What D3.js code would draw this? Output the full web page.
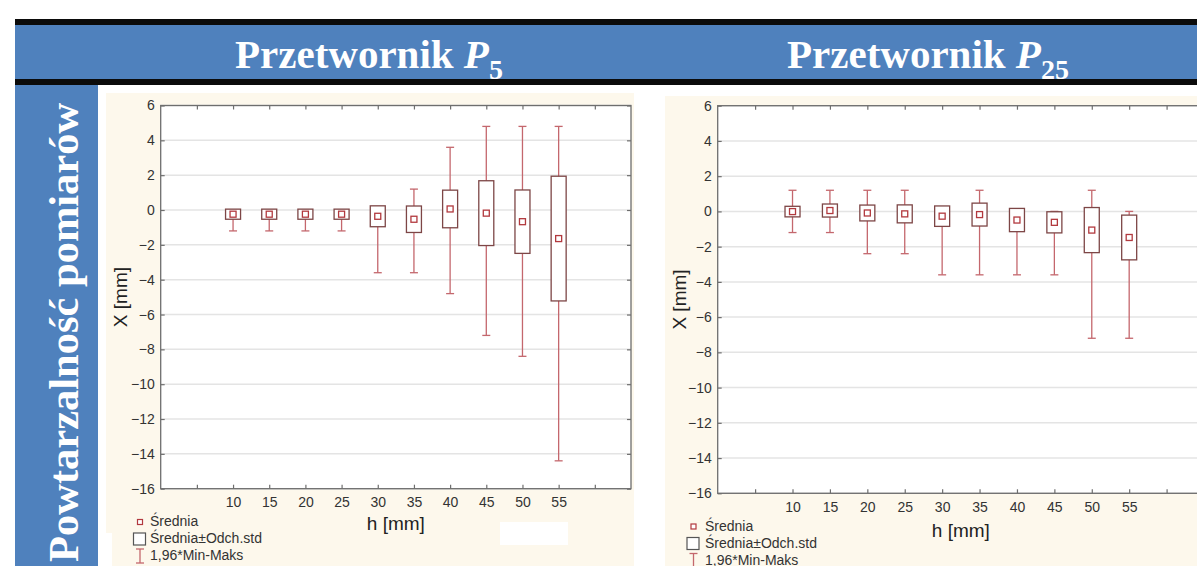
<!DOCTYPE html>
<html>
<head>
<meta charset="utf-8">
<script src="https://cdn.jsdelivr.net/npm/d3@7"></script>
<style>
  body { margin: 0; background: #fff; overflow: hidden; }
  svg { display: block; }
</style>
</head>
<body>
<svg id="chart" width="1197" height="566"></svg>
<script>
// ---- data -------------------------------------------------------------
const heights = [10, 15, 20, 25, 30, 35, 40, 45, 50, 55];        // h [mm]
const xTickValues = [5, 10, 15, 20, 25, 30, 35, 40, 45, 50, 55, 60];
const xTickLabels = [10, 15, 20, 25, 30, 35, 40, 45, 50, 55];
const yTickValues = [6, 4, 2, 0, -2, -4, -6, -8, -10, -12, -14, -16];

// Przetwornik P5
const p5Mean = [-0.24, -0.24, -0.24, -0.24, -0.36, -0.53, 0.06, -0.18, -0.67, -1.64];
const p5Sd   = [0.29, 0.29, 0.29, 0.29, 0.60, 0.76, 1.08, 1.86, 1.82, 3.58];
const p5Min  = [-1.2, -1.2, -1.2, -1.2, -3.6, -3.6, -4.8, -7.2, -8.4, -14.4];
const p5Max  = [0, 0, 0, 0, 0, 1.2, 3.6, 4.8, 4.8, 4.8];

// Przetwornik P25
const p25Mean = [-0.01, 0.05, -0.09, -0.14, -0.27, -0.18, -0.49, -0.62, -1.06, -1.48];
const p25Sd   = [0.30, 0.37, 0.45, 0.51, 0.58, 0.65, 0.66, 0.60, 1.28, 1.27];
const p25Min  = [-1.2, -1.2, -2.4, -2.4, -3.6, -3.6, -3.6, -3.6, -7.2, -7.2];
const p25Max  = [1.2, 1.2, 1.2, 1.2, 0, 1.2, 0, 0, 1.2, 0];

const legendLabels = ["Średnia", "Średnia±Odch.std", "1,96*Min-Maks"];
const yAxisTitle = "X [mm]";
const xAxisTitle = "h [mm]";
const rowTitle = "Powtarzalność pomiarów";
const columnTitles = [
  { word: "Przetwornik ", symbol: "P", sub: "5" },
  { word: "Przetwornik ", symbol: "P", sub: "25" }
];

// ---- styles -----------------------------------------------------------
const BLUE = "#4f81bd";
const CREAM = "#fdf8ec";
const WHISKER = "#c4676d";
const BOX = "#7d4646";
const MEAN = "#b2393e";
const AXIS = "#6e6e6e";
const GRID = "#e4e4e4";
const TEXT = "#333";
const SANS = "'Liberation Sans', Arial, sans-serif";
const SERIF = "'Liberation Serif', 'Times New Roman', serif";

const svg = d3.select("#chart");

// ---- header band and row label ----------------------------------------
svg.append("rect").attr("x", 15).attr("y", 19).attr("width", 1182).attr("height", 6).attr("fill", "#0b0b0b");
svg.append("rect").attr("x", 15).attr("y", 25).attr("width", 1182).attr("height", 54).attr("fill", BLUE);
svg.append("rect").attr("x", 15).attr("y", 79).attr("width", 1182).attr("height", 6).attr("fill", "#0b0b0b");
svg.append("rect").attr("x", 15).attr("y", 85).attr("width", 83).attr("height", 481).attr("fill", BLUE);

svg.append("text")
  .attr("transform", "translate(78,562) rotate(-90)")
  .attr("font-family", SERIF).attr("font-weight", "bold").attr("font-size", 42.5)
  .attr("fill", "#fff")
  .text(rowTitle);

const titlePos = [{ x: 235, y: 68 }, { x: 787, y: 68 }];
columnTitles.forEach((t, i) => {
  const txt = svg.append("text")
    .attr("x", titlePos[i].x).attr("y", titlePos[i].y)
    .attr("font-family", SERIF).attr("font-weight", "bold").attr("font-size", 41)
    .attr("fill", "#fff");
  txt.append("tspan").text(t.word);
  txt.append("tspan").attr("font-style", "italic").text(t.symbol);
  txt.append("tspan").attr("font-size", 28).attr("dy", 11).text(t.sub);
});

// ---- panels -----------------------------------------------------------
const panels = [
  {
    bg: { x: 106, y: 93, w: 528, h: 473 },
    plot: { l: 160.7, r: 631, t: 105.5, b: 488.7 },
    xPad: 8.4, xTitleY: 530, yTitleX: 127,
    legend: { x: 140, y: 522, tx: 150 },
    mean: p5Mean, sd: p5Sd, min: p5Min, max: p5Max
  },
  {
    bg: { x: 665, y: 96, w: 532, h: 470 },
    plot: { l: 717.7, r: 1204, t: 105.7, b: 493.3 },
    xPad: 9.2, xTitleY: 537, yTitleX: 686,
    legend: { x: 693.5, y: 526.5, tx: 705 },
    mean: p25Mean, sd: p25Sd, min: p25Min, max: p25Max
  }
];

function drawPanel(p, idx) {
  const g = svg.append("g");
  g.append("rect").attr("x", p.bg.x).attr("y", p.bg.y)
    .attr("width", p.bg.w).attr("height", p.bg.h).attr("fill", CREAM);

  const x = d3.scaleLinear().domain([0, 65]).range([p.plot.l, p.plot.r]);
  const y = d3.scaleLinear().domain([-16, 6]).range([p.plot.b, p.plot.t]);

  // plotting area
  g.append("rect").attr("x", p.plot.l).attr("y", p.plot.t)
    .attr("width", p.plot.r - p.plot.l).attr("height", p.plot.b - p.plot.t)
    .attr("fill", "#fff");

  g.append("g").selectAll("line").data(yTickValues).join("line")
    .attr("x1", p.plot.l).attr("x2", p.plot.r)
    .attr("y1", d => y(d)).attr("y2", d => y(d))
    .attr("stroke", GRID).attr("stroke-width", 1.5);

  // axes: ticks point inward, labels on left and bottom only
  const axisStyle = sel => {
    sel.select(".domain").remove();
    sel.selectAll(".tick line").attr("stroke", AXIS).attr("stroke-width", 1.2);
    sel.selectAll("text").attr("font-family", SANS).attr("font-size", 14).attr("fill", TEXT);
  };
  g.append("g").attr("transform", `translate(${p.plot.l},0)`)
    .call(d3.axisLeft(y).tickValues(yTickValues).tickSizeInner(-4).tickSizeOuter(0).tickPadding(6))
    .call(axisStyle);
  g.append("g").attr("transform", `translate(${p.plot.r},0)`)
    .call(d3.axisRight(y).tickValues(yTickValues).tickSizeInner(-4).tickSizeOuter(0).tickFormat(""))
    .call(axisStyle);
  g.append("g").attr("transform", `translate(0,${p.plot.b})`)
    .call(d3.axisBottom(x).tickValues(xTickValues).tickSizeInner(-4).tickSizeOuter(0)
      .tickPadding(p.xPad).tickFormat(d => xTickLabels.includes(d) ? d : ""))
    .call(axisStyle);
  g.append("g").attr("transform", `translate(0,${p.plot.t})`)
    .call(d3.axisTop(x).tickValues(xTickValues).tickSizeInner(-4).tickSizeOuter(0).tickFormat(""))
    .call(axisStyle);

  // frame
  g.append("rect").attr("x", p.plot.l).attr("y", p.plot.t)
    .attr("width", p.plot.r - p.plot.l).attr("height", p.plot.b - p.plot.t)
    .attr("fill", "none").attr("stroke", AXIS).attr("stroke-width", 1.3);

  // whiskers (min..max) with caps
  const rows = heights.map((h, i) => ({ h, mean: p.mean[i], sd: p.sd[i], min: p.min[i], max: p.max[i] }));
  const wg = g.append("g").attr("stroke", WHISKER).attr("stroke-width", 1.3);
  wg.selectAll("line.stem").data(rows).join("line").attr("class", "stem")
    .attr("x1", d => x(d.h)).attr("x2", d => x(d.h))
    .attr("y1", d => y(d.min)).attr("y2", d => y(d.max));
  wg.selectAll("line.capLo").data(rows).join("line").attr("class", "capLo")
    .attr("x1", d => x(d.h) - 4).attr("x2", d => x(d.h) + 4)
    .attr("y1", d => y(d.min)).attr("y2", d => y(d.min));
  wg.selectAll("line.capHi").data(rows).join("line").attr("class", "capHi")
    .attr("x1", d => x(d.h) - 4).attr("x2", d => x(d.h) + 4)
    .attr("y1", d => y(d.max)).attr("y2", d => y(d.max));

  // mean ± std boxes
  g.append("g").selectAll("rect").data(rows).join("rect")
    .attr("x", d => x(d.h) - 7.5).attr("width", 15)
    .attr("y", d => y(d.mean + d.sd))
    .attr("height", d => y(d.mean - d.sd) - y(d.mean + d.sd))
    .attr("fill", "#fff").attr("stroke", BOX).attr("stroke-width", 1.3);

  // means
  g.append("g").selectAll("rect").data(rows).join("rect")
    .attr("x", d => x(d.h) - 3).attr("y", d => y(d.mean) - 3)
    .attr("width", 6).attr("height", 6)
    .attr("fill", "#fff").attr("stroke", MEAN).attr("stroke-width", 1.3);

  // axis titles
  g.append("text")
    .attr("transform", `translate(${p.yTitleX},${(p.plot.t + p.plot.b) / 2}) rotate(-90)`)
    .attr("text-anchor", "middle")
    .attr("font-family", SANS).attr("font-size", 19).attr("fill", "#222")
    .text(yAxisTitle);
  g.append("text")
    .attr("x", (p.plot.l + p.plot.r) / 2).attr("y", p.xTitleY)
    .attr("text-anchor", "middle")
    .attr("font-family", SANS).attr("font-size", 19).attr("fill", "#222")
    .text(xAxisTitle);

  // legend
  const L = p.legend;
  const lg = g.append("g").attr("font-family", SANS).attr("font-size", 14).attr("fill", TEXT);
  lg.append("rect").attr("x", L.x - 2.5).attr("y", L.y - 2.5).attr("width", 5).attr("height", 5)
    .attr("fill", "#fff").attr("stroke", MEAN).attr("stroke-width", 1.2);
  lg.append("rect").attr("x", L.x - 6.5).attr("y", L.y + 11).attr("width", 12).attr("height", 12)
    .attr("fill", "#fff").attr("stroke", "#555").attr("stroke-width", 1.2);
  const ey1 = L.y + 27, ey2 = L.y + 41;
  lg.append("line").attr("x1", L.x).attr("x2", L.x).attr("y1", ey1).attr("y2", ey2)
    .attr("stroke", WHISKER).attr("stroke-width", 1.3);
  lg.append("line").attr("x1", L.x - 4).attr("x2", L.x + 4).attr("y1", ey1).attr("y2", ey1)
    .attr("stroke", WHISKER).attr("stroke-width", 1.3);
  lg.append("line").attr("x1", L.x - 4).attr("x2", L.x + 4).attr("y1", ey2).attr("y2", ey2)
    .attr("stroke", WHISKER).attr("stroke-width", 1.3);
  legendLabels.forEach((t, i) => {
    lg.append("text").attr("x", L.tx).attr("y", L.y + 4 + i * 17).text(t);
  });
  return g;
}

panels.forEach(drawPanel);

// blank patches inside the first panel
svg.append("rect").attr("x", 500).attr("y", 522).attr("width", 68).attr("height", 23).attr("fill", "#fff");
svg.append("rect").attr("x", 106).attr("y", 533).attr("width", 6).attr("height", 33).attr("fill", "#fff");
</script>
</body>
</html>
